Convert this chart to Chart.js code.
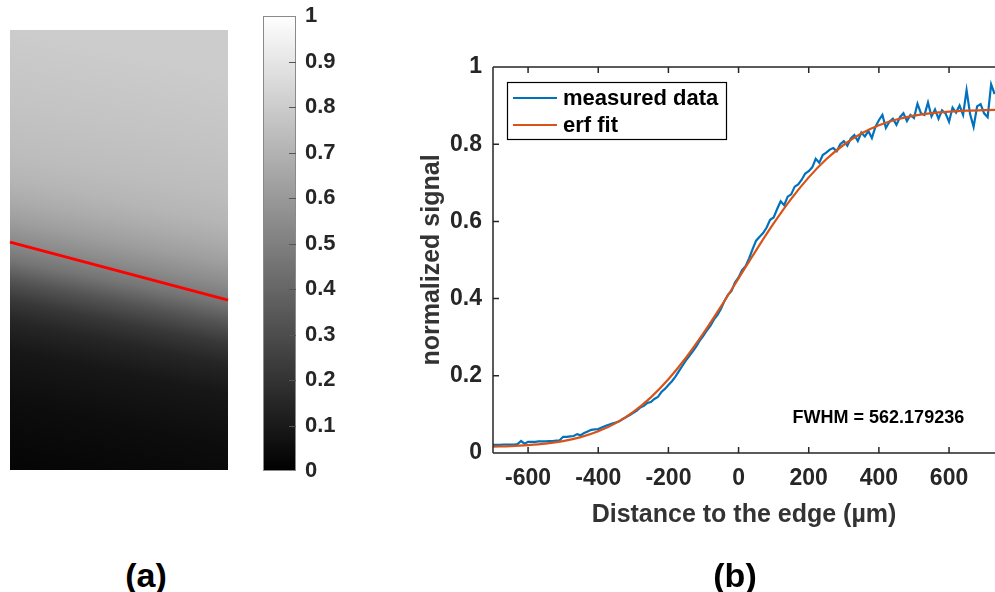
<!DOCTYPE html>
<html><head><meta charset="utf-8">
<script src="https://cdn.jsdelivr.net/npm/chart.js@4.4.1/dist/chart.umd.min.js"></script>
<style>
html,body{margin:0;padding:0;background:#fff;width:995px;height:592px;overflow:hidden;position:relative;font-family:"Liberation Sans",Arial,sans-serif}
canvas{position:absolute;display:block}
.lbl{position:absolute;font-weight:bold;font-size:34px;color:#000;transform:translate(-50%,-50%);white-space:nowrap;line-height:1}
</style></head><body>
<canvas id="ca" width="250" height="490" style="left:0;top:0"></canvas>
<canvas id="cc" width="110" height="530" style="left:250px;top:-20px"></canvas>
<canvas id="cb" width="615" height="530" style="left:380px;top:30px"></canvas>
<div class="lbl" style="left:146px;top:575px">(a)</div>
<div class="lbl" style="left:735px;top:575px">(b)</div>
<script>
// ---------- panel (a): edge image ----------
const imageRowPos = [1.0, 0.84, 0.727, 0.66, 0.614, 0.568, 0.523, 0.477, 0.432, 0.386, 0.34, 0.273, 0.159, 0];
const imageGray   = [0.80, 0.77, 0.74, 0.71, 0.67, 0.62, 0.55, 0.46, 0.33, 0.22, 0.15, 0.09, 0.05, 0.02];
const imageEdgeTilt = 0.1;
const redLineX = [0, 1];
const redLineY = [0.518, 0.386];

// ---------- colorbar ----------
const cbTicks = [0, 0.1, 0.2, 0.3, 0.4, 0.5, 0.6, 0.7, 0.8, 0.9, 1];
const cbTickLabels = ['0', '0.1', '0.2', '0.3', '0.4', '0.5', '0.6', '0.7', '0.8', '0.9', '1'];

// ---------- panel (b): edge profile ----------
const xTicks = [-600, -400, -200, 0, 200, 400, 600];
const yTicks = [0, 0.2, 0.4, 0.6, 0.8, 1];
const yTickLabels = ['0', '0.2', '0.4', '0.6', '0.8', '1'];
const distance = [
  -700,-690,-680,-670,-660,-650,-640,-630,-620,-610,
  -600,-590,-580,-570,-560,-550,-540,-530,-520,-510,
  -500,-490,-480,-470,-460,-450,-440,-430,-420,-410,
  -400,-390,-380,-370,-360,-350,-340,-330,-320,-310,
  -300,-290,-280,-270,-260,-250,-240,-230,-220,-210,
  -200,-190,-180,-170,-160,-150,-140,-130,-120,-110,
  -100,-90,-80,-70,-60,-50,-40,-30,-20,-10,
  0,10,20,30,40,50,60,70,80,90,
  100,110,120,130,140,150,160,170,180,190,
  200,210,220,230,240,250,260,270,280,290,
  300,310,320,330,340,350,360,370,380,390,
  400,410,420,430,440,450,460,470,480,490,
  500,510,520,530,540,550,560,570,580,590,
  600,610,620,630,640,650,660,670,680,690,
  700,710,720,730];
const measured = [
  .021,.021,.021,.022,.022,.022,.022,.023,.031,.024,
  .029,.029,.029,.030,.030,.030,.031,.031,.032,.033,
  .042,.042,.043,.044,.049,.046,.052,.056,.060,.061,
  .062,.066,.070,.073,.076,.079,.082,.088,.093,.098,
  .104,.110,.118,.122,.130,.132,.140,.145,.158,.166,
  .176,.186,.198,.212,.226,.240,.252,.264,.277,.292,
  .304,.318,.330,.346,.358,.374,.394,.410,.420,.442,
  .455,.474,.484,.504,.528,.550,.560,.570,.584,.604,
  .610,.632,.652,.642,.664,.670,.690,.696,.708,.724,
  .730,.740,.762,.752,.772,.778,.786,.790,.782,.800,
  .808,.796,.815,.824,.808,.830,.820,.834,.816,.845,
  .862,.876,.842,.858,.866,.850,.870,.880,.860,.876,
  .868,.905,.880,.876,.908,.872,.890,.866,.888,.880,
  .858,.895,.882,.900,.876,.940,.878,.845,.898,.904,
  .880,.870,.955,.930];
const fitX = [-700,-650,-600,-550,-500,-450,-400,-350,-300,-250,-200,-150,-100,-50,0,
              50,100,150,200,250,300,350,400,450,500,550,600,650,700,750];
const fitY = [.0165,.0179,.0204,.0243,.0309,.0410,.0561,.0774,.1064,.1441,.1910,.2468,.3104,.3799,.4525,
              .5251,.5946,.6582,.7140,.7609,.7986,.8276,.8489,.8640,.8741,.8807,.8846,.8871,.8885,.8893];
const seriesNames = ['measured data', 'erf fit'];
const fwhmLabel = 'FWHM = 562.179236';
const fwhmAt = [154, 0.09];

const FONT = '"Liberation Sans", Arial, sans-serif';
const AX = '#262626';

// image plugin
const imagePlugin = {
  id: 'edgeImage',
  beforeDatasetsDraw(chart) {
    const {ctx, chartArea: a, scales: {x, y}} = chart;
    const vTop = 1.3, vBot = -0.3, span = vTop - vBot;
    const yT = y.getPixelForValue(vTop), yB = y.getPixelForValue(vBot);
    ctx.save();
    for (let px = Math.round(a.left); px < Math.round(a.right); px++) {
      const xv = x.getValueForPixel(px + 0.5);
      const g = ctx.createLinearGradient(0, yT, 0, yB);
      imageRowPos.forEach((p, i) => {
        const v = p - imageEdgeTilt * xv;
        const off = Math.min(1, Math.max(0, (vTop - v) / span));
        const c = Math.round(imageGray[i] * 255);
        g.addColorStop(off, `rgb(${c},${c},${c})`);
      });
      ctx.fillStyle = g;
      ctx.fillRect(px, a.top, 1, a.bottom - a.top);
    }
    ctx.restore();
  }
};

new Chart(document.getElementById('ca'), {
  type: 'line',
  data: { datasets: [{
    data: redLineX.map((v, i) => ({x: v, y: redLineY[i]})),
    borderColor: '#ff0000', borderWidth: 3, pointRadius: 0, clip: false
  }]},
  options: {
    responsive: false, animation: false, devicePixelRatio: 1,
    layout: { padding: { left: 10, right: 22, top: 30, bottom: 20 } },
    plugins: { legend: { display: false }, tooltip: { enabled: false } },
    scales: {
      x: { type: 'linear', min: 0, max: 1, display: false },
      y: { type: 'linear', min: 0, max: 1, display: false }
    }
  },
  plugins: [imagePlugin]
});

// colorbar
const colorbarPlugin = {
  id: 'colorbar',
  beforeDatasetsDraw(chart) {
    const {ctx, chartArea: a, scales: {y}} = chart;
    const g = ctx.createLinearGradient(0, y.getPixelForValue(0), 0, y.getPixelForValue(1));
    g.addColorStop(0, '#000000');
    g.addColorStop(1, '#ffffff');
    ctx.save();
    ctx.fillStyle = g;
    ctx.fillRect(a.left, a.top, a.right - a.left, a.bottom - a.top);
    ctx.strokeStyle = '#8a8a8a';
    ctx.lineWidth = 1;
    ctx.strokeRect(a.left + 0.5, a.top + 0.5, a.right - a.left - 1, a.bottom - a.top - 1);
    ctx.strokeStyle = '#555';
    ctx.beginPath();
    cbTicks.forEach(v => {
      if (v <= 0 || v >= 1) return;
      const py = Math.round(y.getPixelForValue(v)) + 0.5;
      ctx.moveTo(a.right, py); ctx.lineTo(a.right - 7, py);
    });
    ctx.stroke();
    ctx.restore();
  }
};

new Chart(document.getElementById('cc'), {
  type: 'line',
  data: { datasets: [{ data: [] }] },
  options: {
    responsive: false, animation: false, devicePixelRatio: 1,
    layout: { padding: { left: 13, right: 0, top: 36, bottom: 39 } },
    plugins: { legend: { display: false }, tooltip: { enabled: false } },
    scales: {
      x: { type: 'linear', min: 0, max: 1, display: false },
      y: {
        type: 'linear', position: 'right', min: 0, max: 1,
        afterBuildTicks: s => { s.ticks = cbTicks.map(v => ({value: v})); },
        afterFit: s => { s.width = 64; },
        grid: { display: false, drawTicks: false },
        border: { display: false },
        ticks: {
          padding: 9, color: AX,
          font: { family: FONT, size: 22, weight: 'bold' },
          callback: (v, i) => cbTickLabels[cbTicks.indexOf(+v.toFixed(1))]
        }
      }
    }
  },
  plugins: [colorbarPlugin]
});

// profile plot
const framePlugin = {
  id: 'frame',
  afterDatasetsDraw(chart) {
    const {ctx, chartArea: a, scales: {x, y}} = chart;
    ctx.save();
    ctx.strokeStyle = AX;
    ctx.lineWidth = 1.5;
    ctx.beginPath();
    ctx.moveTo(a.left, a.top); ctx.lineTo(a.right, a.top);
    ctx.moveTo(a.left, a.top); ctx.lineTo(a.left, a.bottom);
    ctx.moveTo(a.left, a.bottom); ctx.lineTo(a.right, a.bottom);
    xTicks.forEach(v => {
      const px = x.getPixelForValue(v);
      ctx.moveTo(px, a.bottom); ctx.lineTo(px, a.bottom - 6);
      ctx.moveTo(px, a.top); ctx.lineTo(px, a.top + 6);
    });
    yTicks.forEach(v => {
      const py = y.getPixelForValue(v);
      ctx.moveTo(a.left, py); ctx.lineTo(a.left + 6, py);
    });
    ctx.stroke();

    // legend
    const lx = a.left + 14, ly = a.top + 15, lw = 219, lh = 57;
    ctx.fillStyle = '#fff';
    ctx.fillRect(lx, ly, lw, lh);
    ctx.strokeStyle = '#000';
    ctx.lineWidth = 1.2;
    ctx.strokeRect(lx + 0.5, ly + 0.5, lw, lh);
    ctx.font = `bold 22px ${FONT}`;
    ctx.textBaseline = 'middle';
    ctx.textAlign = 'left';
    chart.data.datasets.forEach((ds, i) => {
      const ry = ly + 16 + i * 27;
      ctx.strokeStyle = ds.borderColor;
      ctx.lineWidth = 2;
      ctx.beginPath(); ctx.moveTo(lx + 6, ry); ctx.lineTo(lx + 50, ry); ctx.stroke();
      ctx.fillStyle = '#000';
      ctx.fillText(ds.label, lx + 56, ry + 1);
    });

    // FWHM annotation
    ctx.font = `bold 18px ${FONT}`;
    ctx.fillStyle = '#000';
    ctx.fillText(fwhmLabel, x.getPixelForValue(fwhmAt[0]), y.getPixelForValue(fwhmAt[1]));
    ctx.restore();
  }
};

new Chart(document.getElementById('cb'), {
  type: 'line',
  data: { datasets: [
    { label: seriesNames[0], data: distance.map((v, i) => ({x: v, y: measured[i]})),
      borderColor: '#0072BD', borderWidth: 2.2, pointRadius: 0, tension: 0, order: 2 },
    { label: seriesNames[1], data: fitX.map((v, i) => ({x: v, y: fitY[i]})),
      borderColor: '#D95319', borderWidth: 2.2, pointRadius: 0, cubicInterpolationMode: 'monotone', order: 1 }
  ]},
  options: {
    responsive: false, animation: false, devicePixelRatio: 1,
    layout: { padding: { left: 0, right: 0, top: 37, bottom: 0 } },
    plugins: { legend: { display: false }, tooltip: { enabled: false } },
    scales: {
      x: {
        type: 'linear', min: -700, max: 731,
        afterBuildTicks: s => { s.ticks = xTicks.map(v => ({value: v})); },
        afterFit: s => { s.height = 107; },
        grid: { display: false, drawTicks: false },
        border: { display: false },
        ticks: { padding: 12, color: AX, font: { family: FONT, size: 23, weight: 'bold' },
                 maxRotation: 0, autoSkip: false, callback: v => String(v) },
        title: { display: true, text: 'Distance to the edge (µm)', color: '#333',
                 font: { family: FONT, size: 25, weight: 'bold' }, padding: { top: 0, bottom: 30 } }
      },
      y: {
        type: 'linear', min: 0, max: 1,
        afterBuildTicks: s => { s.ticks = yTicks.map(v => ({value: v})); },
        afterFit: s => { s.width = 113; },
        grid: { display: false, drawTicks: false },
        border: { display: false },
        ticks: { padding: 11, color: AX, font: { family: FONT, size: 23, weight: 'bold' },
                 callback: (v) => yTickLabels[yTicks.indexOf(+v.toFixed(1))] },
        title: { display: true, text: 'normalized signal', color: '#333',
                 font: { family: FONT, size: 25, weight: 'bold' }, padding: { top: 37, bottom: 0 } }
      }
    }
  },
  plugins: [framePlugin]
});
</script>
</body></html>
